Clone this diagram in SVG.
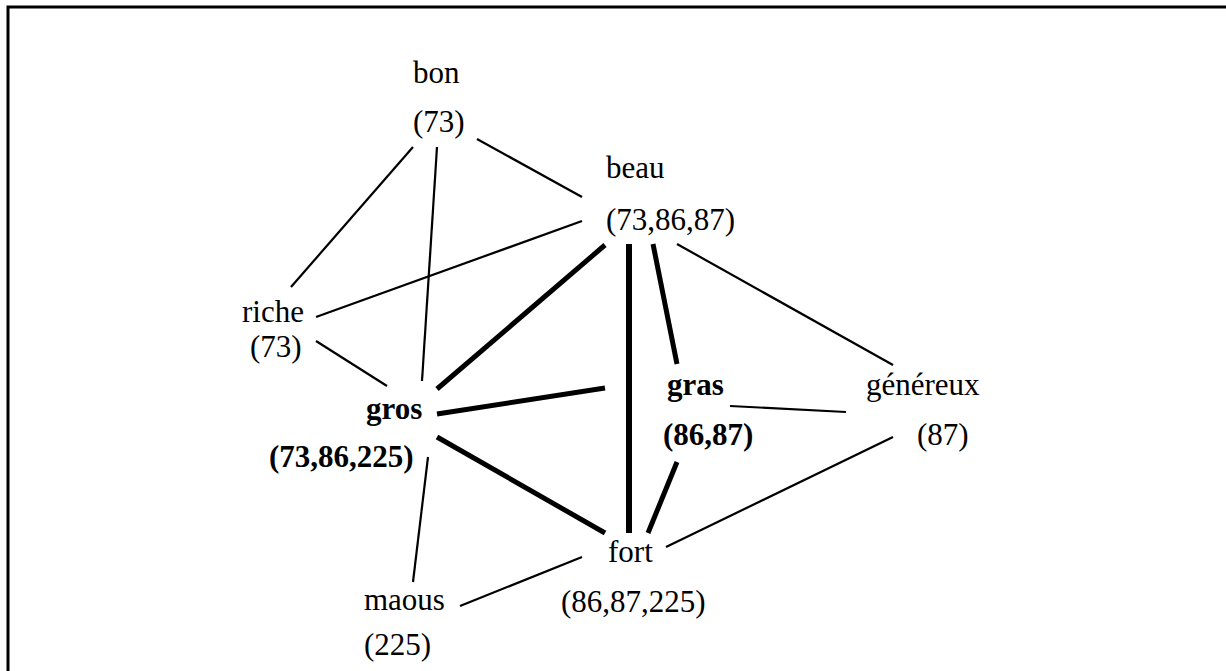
<svg xmlns="http://www.w3.org/2000/svg" width="1226" height="671" viewBox="0 0 1226 671">
<style>
text{font-family:"Liberation Serif","Times New Roman",serif;font-size:31px;fill:#000}
.b{font-weight:bold}
.thin{stroke:#000;stroke-width:2.2;fill:none}
.thick{stroke:#000;stroke-width:5;fill:none}
.vthick{stroke:#000;stroke-width:6;fill:none}
</style>
<rect width="1226" height="671" fill="#fff"/>
<path d="M8,671 V7 H1226" fill="none" stroke="#000" stroke-width="3"/>
<g id="connectors">
<line class="thin" x1="413" y1="147" x2="291" y2="287"/>
<line class="thin" x1="437" y1="147" x2="422" y2="381"/>
<line class="thin" x1="477" y1="139" x2="582" y2="197"/>
<line class="thin" x1="316" y1="317" x2="582" y2="221"/>
<line class="thin" x1="316" y1="341" x2="387" y2="386"/>
<line class="thick" x1="437" y1="389" x2="605" y2="245"/>
<line class="thick" x1="437" y1="414" x2="605" y2="388"/>
<line class="thick" x1="437" y1="437" x2="605" y2="533"/>
<line class="thin" x1="428" y1="457" x2="413" y2="582"/>
<line class="vthick" x1="629" y1="244" x2="629" y2="533"/>
<line class="thick" x1="653" y1="244" x2="677" y2="364"/>
<line class="thin" x1="677" y1="244" x2="893" y2="365"/>
<line class="thin" x1="730" y1="406" x2="846" y2="412"/>
<line class="thick" x1="677" y1="462" x2="648" y2="533"/>
<line class="thin" x1="893" y1="437" x2="666" y2="547"/>
<line class="thin" x1="460" y1="606" x2="582" y2="557"/>
</g>
<g id="bon"><text x="413" y="83">bon</text><text x="413" y="132">(73)</text></g>
<g id="beau"><text x="606" y="178">beau</text><text x="606" y="230">(73,86,87)</text></g>
<g id="riche"><text x="242" y="322">riche</text><text x="250" y="357">(73)</text></g>
<g id="gros"><text class="b" x="366" y="419">gros</text><text class="b" x="269" y="467">(73,86,225)</text></g>
<g id="gras"><text class="b" x="667" y="395">gras</text><text class="b" x="663" y="445">(86,87)</text></g>
<g id="genereux"><text x="866" y="395">généreux</text><text x="917" y="445">(87)</text></g>
<g id="fort"><text x="608" y="562">fort</text><text x="561" y="612">(86,87,225)</text></g>
<g id="maous"><text x="364" y="610">maous</text><text x="364" y="655">(225)</text></g>
</svg>
